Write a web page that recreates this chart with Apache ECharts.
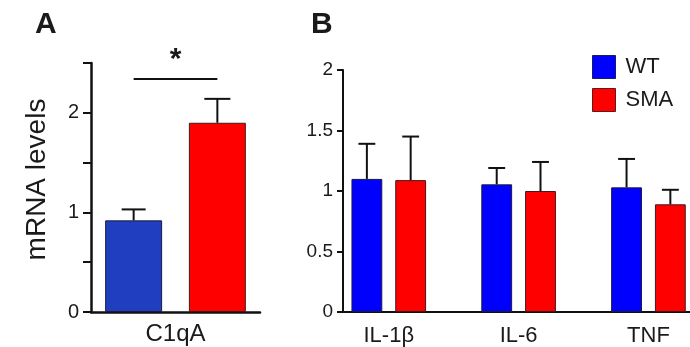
<!DOCTYPE html>
<html>
<head>
<meta charset="utf-8">
<script src="https://cdn.jsdelivr.net/npm/echarts@6/dist/echarts.min.js"></script>
<style>
html,body{margin:0;padding:0;background:#fff;}
#chart{width:690px;height:347px;}
</style>
</head>
<body>
<div id="chart"></div>
<script>
// ---- data ----
const catsA = ['C1qA'];
const wtA = [0.92];
const wtASem = [0.11];
const smaA = [1.90];
const smaASem = [0.24];
const sigA = [2.34];          // height of significance bracket
const sigLabel = ['*'];
const yLabelsA = [0, 1, 2];

const catsB = ['IL-1\u03b2', 'IL-6', 'TNF'];
const wtB = [1.10, 1.055, 1.03];
const wtBSem = [0.29, 0.135, 0.235];
const smaB = [1.09, 1.00, 0.89];
const smaBSem = [0.36, 0.24, 0.12];
const yLabelsB = [0, 0.5, 1, 1.5, 2];

const names = ['WT', 'SMA'];

// ---- styles ----
const FONT = 'Liberation Sans, Arial, Helvetica, sans-serif';
const TXT = '#1a1a1a';
const AX = '#111';
const blueA = '#1f3fc0', blueB = '#0000ff', red = '#ff0000';

// bar layout fractions of band width
const A_BAR = 0.337, A_GAP = 0.47;
const B_BAR = 0.2375, B_GAP = 0.42;
const offA = A_BAR * (1 + A_GAP) / 2;
const offB = B_BAR * (1 + B_GAP) / 2;

function errRender(offFrac, capFrac, sign) {
  return function (params, api) {
    const x = api.value(0), m = api.value(1), s = api.value(2);
    const band = api.size([1, 0])[0];
    const p0 = api.coord([x, m]);
    const p1 = api.coord([x, m + s]);
    const cx = p0[0] + sign * offFrac * band;
    const cw = capFrac * band / 2;
    const st = { stroke: AX, lineWidth: 2 };
    return {
      type: 'group',
      children: [
        { type: 'line', shape: { x1: cx, y1: p0[1], x2: cx, y2: p1[1] }, style: st },
        { type: 'line', shape: { x1: cx - cw, y1: p1[1], x2: cx + cw, y2: p1[1] }, style: st }
      ]
    };
  };
}

const chart = echarts.init(document.getElementById('chart'), null, { renderer: 'canvas' });

const option = {
  animation: false,
  backgroundColor: '#fff',
  textStyle: { fontFamily: FONT },
  title: [
    { text: 'A', left: 35, top: 10, padding: 0, textStyle: { fontSize: 30, fontWeight: 'bold', color: TXT, fontFamily: FONT } },
    { text: 'B', left: 311, top: 10, padding: 0, textStyle: { fontSize: 30, fontWeight: 'bold', color: TXT, fontFamily: FONT } }
  ],
  legend: {
    orient: 'vertical', left: 592, top: 55, padding: 0,
    itemWidth: 23, itemHeight: 23, itemGap: 9, icon: 'rect', selectedMode: false,
    textStyle: { fontSize: 22, color: TXT, fontFamily: FONT, padding: [0, 0, 0, 5] },
    data: [
      { name: names[0], itemStyle: { color: blueB, borderColor: '#1a1a60', borderWidth: 1 } },
      { name: names[1], itemStyle: { color: red, borderColor: '#601a1a', borderWidth: 1 } }
    ]
  },
  grid: [
    { left: 91, top: 63, width: 169, height: 249, containLabel: false },
    { left: 343, top: 70, width: 349, height: 242, containLabel: false }
  ],
  xAxis: [
    {
      type: 'category', gridIndex: 0, data: catsA,
      axisLine: { show: true, onZero: false, lineStyle: { color: AX, width: 2.5 } },
      axisTick: { show: false },
      axisLabel: { fontSize: 24, color: TXT, margin: 10, fontFamily: FONT }
    },
    {
      type: 'value', gridIndex: 1, min: -0.3525, max: 2.32,
      splitLine: { show: false },
      axisLine: { show: true, onZero: false, lineStyle: { color: AX, width: 2 } },
      axisTick: { show: false },
      axisLabel: {
        fontSize: 22, color: TXT, margin: 13, fontFamily: FONT,
        customValues: catsB.map((c, i) => i),
        formatter: v => catsB[Math.round(v)]
      }
    }
  ],
  yAxis: [
    {
      type: 'value', gridIndex: 0, min: 0, max: 2.5, interval: 0.5,
      splitLine: { show: false },
      axisLine: { show: true, onZero: false, lineStyle: { color: AX, width: 2.5 } },
      axisTick: { show: true, inside: false, length: 8, lineStyle: { color: AX, width: 2 } },
      name: 'mRNA levels', nameLocation: 'middle', nameRotate: 90, nameGap: 40,
      nameTextStyle: { fontSize: 28, color: TXT, fontFamily: FONT, padding: [0, 0, 0, 16] },
      axisLabel: {
        fontSize: 20, color: TXT, margin: 12, fontFamily: FONT,
        formatter: v => (yLabelsA.indexOf(v) >= 0 ? String(v) : '')
      }
    },
    {
      type: 'value', gridIndex: 1, min: 0, max: 2, interval: 0.5,
      splitLine: { show: false },
      axisLine: { show: true, onZero: false, lineStyle: { color: AX, width: 2 } },
      axisTick: { show: true, inside: false, length: 6, lineStyle: { color: AX, width: 2 } },
      axisLabel: {
        fontSize: 19, color: TXT, margin: 10, fontFamily: FONT,
        formatter: v => (yLabelsB.indexOf(v) >= 0 ? String(v) : '')
      }
    }
  ],
  series: [
    // panel B
    {
      name: names[0], type: 'bar', xAxisIndex: 1, yAxisIndex: 1,
      data: wtB.map((v, i) => [i, v]),
      barWidth: (B_BAR * 100) + '%', barGap: (B_GAP * 100) + '%',
      itemStyle: { color: blueB, borderColor: '#1a1a40', borderWidth: 1 }
    },
    {
      name: names[1], type: 'bar', xAxisIndex: 1, yAxisIndex: 1,
      data: smaB.map((v, i) => [i, v]),
      barWidth: (B_BAR * 100) + '%', barGap: (B_GAP * 100) + '%',
      itemStyle: { color: red, borderColor: '#401a1a', borderWidth: 1 }
    },
    {
      type: 'custom', xAxisIndex: 1, yAxisIndex: 1, z: 5,
      data: wtB.map((v, i) => [i, v, wtBSem[i]]),
      encode: { x: 0, y: [1, 2] },
      renderItem: errRender(offB, 0.13, -1)
    },
    {
      type: 'custom', xAxisIndex: 1, yAxisIndex: 1, z: 5,
      data: smaB.map((v, i) => [i, v, smaBSem[i]]),
      encode: { x: 0, y: [1, 2] },
      renderItem: errRender(offB, 0.13, 1)
    },
    // panel A
    {
      name: names[0], type: 'bar', xAxisIndex: 0, yAxisIndex: 0,
      data: wtA,
      barWidth: (A_BAR * 100) + '%', barGap: (A_GAP * 100) + '%',
      itemStyle: { color: blueA, borderColor: '#1a1a40', borderWidth: 1 }
    },
    {
      name: names[1], type: 'bar', xAxisIndex: 0, yAxisIndex: 0,
      data: smaA,
      barWidth: (A_BAR * 100) + '%', barGap: (A_GAP * 100) + '%',
      itemStyle: { color: red, borderColor: '#401a1a', borderWidth: 1 }
    },
    {
      type: 'custom', xAxisIndex: 0, yAxisIndex: 0, z: 5,
      data: wtA.map((v, i) => [i, v, wtASem[i]]),
      encode: { x: 0, y: [1, 2] },
      renderItem: errRender(offA, 0.142, -1)
    },
    {
      type: 'custom', xAxisIndex: 0, yAxisIndex: 0, z: 5,
      data: smaA.map((v, i) => [i, v, smaASem[i]]),
      encode: { x: 0, y: [1, 2] },
      renderItem: errRender(offA, 0.154, 1)
    },
    {
      type: 'custom', xAxisIndex: 0, yAxisIndex: 0, z: 5,
      data: sigA.map((v, i) => [i, v]),
      encode: { x: 0, y: 1 },
      renderItem: function (params, api) {
        const p = api.coord([api.value(0), api.value(1)]);
        const band = api.size([1, 0])[0];
        const half = offA * band;
        return {
          type: 'group',
          children: [
            { type: 'line', shape: { x1: p[0] - half, y1: p[1], x2: p[0] + half, y2: p[1] }, style: { stroke: AX, lineWidth: 2 } },
            { type: 'text', x: p[0], y: p[1] - 4, style: { text: sigLabel[params.dataIndex], fill: TXT, font: 'bold 30px ' + FONT, align: 'center', verticalAlign: 'bottom' } }
          ]
        };
      }
    }
  ]
};

chart.setOption(option);
</script>
</body>
</html>
